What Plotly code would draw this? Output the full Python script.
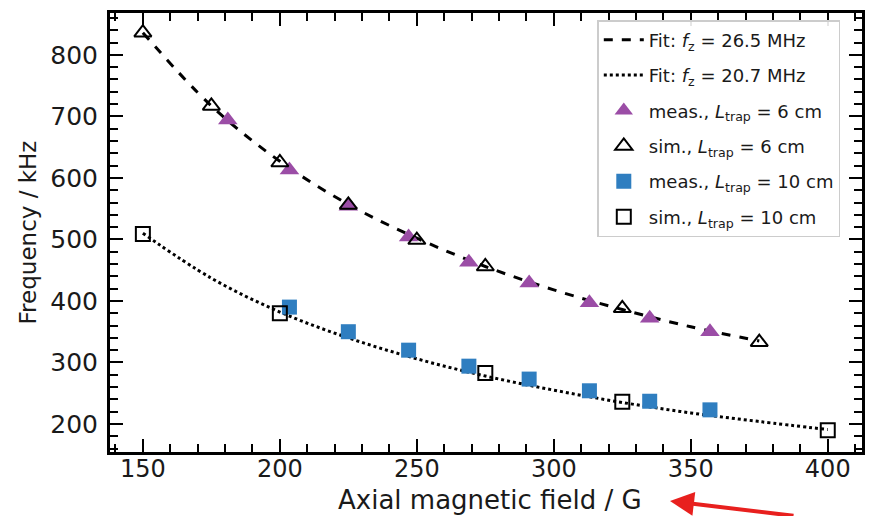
import plotly.graph_objects as go

# Fit curves
fit_a_B = [150, 175, 200, 225, 250, 275, 300, 325, 350, 375]
fit_a_f = [836, 717, 627, 557, 502, 456, 418, 386, 358, 335]
fit_b_B = [150, 175, 200, 225, 250, 275, 300, 325, 350, 375, 400]
fit_b_f = [510, 437, 382, 340, 306, 278, 255, 235, 218, 204, 191]

# L_trap = 6 cm
meas6_B = [181, 203.5, 225, 247, 269, 291, 313, 335, 357]
meas6_f = [694, 613, 554, 504, 463, 429, 397, 372, 350]
sim6_B = [150, 175, 200, 225, 250, 275, 325, 375]
sim6_f = [836, 717, 625, 556, 499, 456, 388, 333]

# L_trap = 10 cm
meas10_B = [203.5, 225, 247, 269, 291, 313, 335, 357]
meas10_f = [390, 350, 320, 294, 273, 254, 237, 223]
sim10_B = [150, 200, 275, 325, 400]
sim10_f = [509, 380, 283, 236, 190]

PURPLE = "#9b4da6"
BLUE = "#2f7ec0"
FONT = "DejaVu Sans"
TXT = "#1a1a1a"

fig = go.Figure()
fig.add_trace(go.Scatter(x=fit_a_B, y=fit_a_f, mode="lines", line=dict(color="black", width=3, dash="dash", shape="spline"),
                         name="Fit: <i>f</i><sub>z</sub> = 26.5 MHz", legendgroup="g1"))
fig.add_trace(go.Scatter(x=fit_b_B, y=fit_b_f, mode="lines", line=dict(color="black", width=3, dash="dot", shape="spline"),
                         name="Fit: <i>f</i><sub>z</sub> = 20.7 MHz", legendgroup="g2"))
fig.add_trace(go.Scatter(x=meas6_B, y=meas6_f, mode="markers",
                         marker=dict(symbol="triangle-up", size=17, color=PURPLE, line=dict(width=0)),
                         name="meas., <i>L</i><sub>trap</sub> = 6 cm", legendgroup="g3"))
fig.add_trace(go.Scatter(x=sim6_B, y=sim6_f, mode="markers",
                         marker=dict(symbol="triangle-up-open", size=15, color="black", line=dict(width=2, color="black")),
                         name="sim., <i>L</i><sub>trap</sub> = 6 cm", legendgroup="g4"))
fig.add_trace(go.Scatter(x=meas10_B, y=meas10_f, mode="markers",
                         marker=dict(symbol="square", size=15, color=BLUE, line=dict(width=0)),
                         name="meas., <i>L</i><sub>trap</sub> = 10 cm", legendgroup="g5"))
fig.add_trace(go.Scatter(x=sim10_B, y=sim10_f, mode="markers",
                         marker=dict(symbol="square-open", size=14, color="black", line=dict(width=2, color="black")),
                         name="sim., <i>L</i><sub>trap</sub> = 10 cm", legendgroup="g6"))

axis_common = dict(showline=True, linecolor="black", linewidth=3, mirror="allticks", ticks="inside",
                   tickcolor="black", tickwidth=2, ticklen=13, showgrid=False, zeroline=False,
                   automargin=False)
fig.update_xaxes(range=[138, 412.5], tickmode="array", tickvals=[150, 200, 250, 300, 350, 400],
                 minor=dict(ticks="inside", ticklen=8, tickwidth=1.5, tickcolor="black", dtick=10, tick0=150),
                 ticklabelstandoff=-7, tickfont=dict(family=FONT, size=24, color=TXT), **axis_common)
fig.update_yaxes(range=[154.5, 868], tickmode="array", tickvals=[200, 300, 400, 500, 600, 700, 800],
                 minor=dict(ticks="inside", ticklen=8, tickwidth=1.5, tickcolor="black", dtick=20, tick0=200),
                 ticklabelstandoff=4, tickfont=dict(family=FONT, size=25, color=TXT),
                 title=dict(text="Frequency / kHz", font=dict(family=FONT, size=23, color=TXT), standoff=8),
                 **axis_common)

fig.update_layout(
    width=871, height=516,
    margin=dict(l=110, r=9, t=13, b=64),
    plot_bgcolor="white", paper_bgcolor="white",
    font=dict(family=FONT, color=TXT),
    legend=dict(x=0.648, y=0.984, xanchor="left", yanchor="top",
                bgcolor="rgba(255,255,255,0.9)", bordercolor="#cccccc", borderwidth=1.5,
                font=dict(family=FONT, size=18, color=TXT), itemwidth=40, tracegroupgap=9),
    annotations=[
        dict(x=(490 - 110) / 752, y=(452 - 500) / 439, xref="paper", yref="paper",
             text="Axial magnetic field / G", showarrow=False, xanchor="center", yanchor="middle",
             font=dict(family=FONT, size=26, color=TXT)),
        dict(x=(670 - 110) / 752, y=(452 - 501) / 439, xref="paper", yref="paper",
             ax=125, ay=19, axref="pixel", ayref="pixel", text="", showarrow=True,
             arrowhead=2, arrowsize=1.2, arrowwidth=4, arrowcolor="#e8201e"),
    ],
)

fig.write_html("out.html")
